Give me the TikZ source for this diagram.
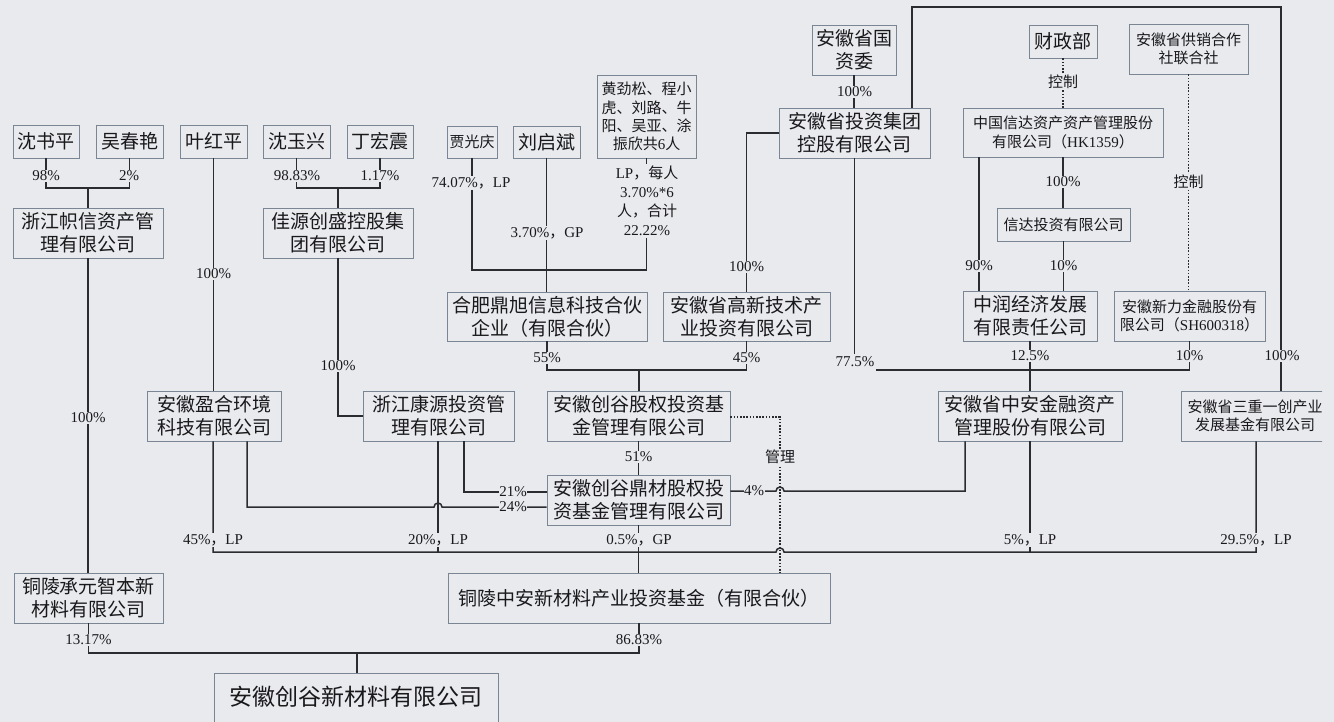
\documentclass[tikz,border=0pt]{standalone}
\usepackage{fontspec}
\setmainfont{Liberation Serif}
\newfontfamily\cjk{Noto Sans CJK SC}
\newcommand\zh[1]{{\cjk #1}}
\definecolor{bg}{RGB}{233,234,237}
\definecolor{bd}{RGB}{122,134,148}
\definecolor{lc}{RGB}{42,44,48}
\definecolor{tx}{RGB}{25,25,28}
\begin{document}
\begin{tikzpicture}[x=1pt,y=-1pt,
  box/.style={draw=bd, line width=0.9pt, inner sep=0pt, align=center, text=tx},
  big/.style={box, font=\cjk\fontsize{19}{23}\selectfont},
  small/.style={box, font=\cjk\fontsize{15}{18.3}\selectfont},
  ln/.style={draw=lc, line width=1.5pt},
  dl/.style={draw=lc, line width=1.4pt, dash pattern=on 1.6pt off 1.6pt},
  lab/.style={fill=bg, inner sep=1.2pt, text=tx, font=\fontsize{15}{19}\selectfont, align=center},
  zlab/.style={lab, font=\cjk\fontsize{15}{19}\selectfont}]
\useasboundingbox (0,0) rectangle (1334,722);
\fill[bg] (0,0) rectangle (1334,722);
\clip (0,0) rectangle (1334,722);

% ---------- boxes ----------
\node[big, minimum width=66, minimum height=33] (shu) at (46,141.5) {沈书平};
\node[big, minimum width=67, minimum height=33] (wu) at (129.5,141.5) {吴春艳};
\node[big, minimum width=67, minimum height=33] (ye) at (213.5,141.5) {叶红平};
\node[big, minimum width=67, minimum height=33] (shenyx) at (296.5,141.5) {沈玉兴};
\node[big, minimum width=66, minimum height=33] (ding) at (380,141.5) {丁宏震};
\node[big, minimum width=150, minimum height=50] (zhixin) at (88,233) {浙江帜信资产管\\理有限公司};
\node[big, minimum width=150, minimum height=50] (jiayuan) at (338,233) {佳源创盛控股集\\团有限公司};
\node[small, minimum width=50, minimum height=32] (jia) at (472,142) {贾光庆};
\node[big, minimum width=67, minimum height=32] (liu) at (546.5,142) {刘启斌};
\node[small, minimum width=99, minimum height=83] (huang) at (646.5,116.5) {黄劲松、程小\\虎、刘路、牛\\阳、吴亚、涂\\振欣共{\rmfamily 6}人};
\node[big, minimum width=84, minimum height=50] (gzw) at (854,50) {安徽省国\\资委};
\node[big, minimum width=151, minimum height=50] (tzjt) at (854.5,133) {安徽省投资集团\\控股有限公司};
\node[big, minimum width=68, minimum height=33] (czb) at (1063,41.5) {财政部};
\node[small, minimum width=119, minimum height=50] (gx) at (1188.5,49) {安徽省供销合作\\社联合社};
\node[small, minimum width=200, minimum height=49] (xinda) at (1063,132.5) {中国信达资产资产管理股份\\有限公司（{\rmfamily HK1359}）};
\node[small, minimum width=133, minimum height=33] (xdtz) at (1063.5,224.5) {信达投资有限公司};
\node[big, minimum width=200, minimum height=49] (hefei) at (547,316.5) {合肥鼎旭信息科技合伙\\企业（有限合伙）};
\node[big, minimum width=167, minimum height=49] (gaoxin) at (746.5,316.5) {安徽省高新技术产\\业投资有限公司};
\node[big, minimum width=134, minimum height=50] (zhongrun) at (1030,316) {中润经济发展\\有限责任公司};
\node[small, minimum width=151, minimum height=50] (xinli) at (1189.5,316) {安徽新力金融股份有\\限公司（{\rmfamily SH600318}）};
\node[big, minimum width=134, minimum height=50] (yinghe) at (214,416) {安徽盈合环境\\科技有限公司};
\node[big, minimum width=151, minimum height=50] (kangyuan) at (438.5,416) {浙江康源投资管\\理有限公司};
\node[big, minimum width=183, minimum height=50] (gq) at (638.5,416) {安徽创谷股权投资基\\金管理有限公司};
\node[big, minimum width=184, minimum height=50] (zhongan) at (1030,416) {安徽省中安金融资产\\管理股份有限公司};
\begin{scope}
\clip (1170,380) rectangle (1322,450);
\node[box, minimum width=164, minimum height=50] (sanzhong) at (1263,416) {};
\node[small, draw=none] (sanzhongtext) at (1255,416) {安徽省三重一创产业\\发展基金有限公司};
\end{scope}
\node[big, minimum width=183, minimum height=50] (dingcai) at (638.5,500) {安徽创谷鼎材股权投\\资基金管理有限公司};
\node[big, minimum width=149, minimum height=50] (chengyuan) at (88.5,598) {铜陵承元智本新\\材料有限公司};
\node[big, minimum width=382, minimum height=50] (tlza) at (639,598) {铜陵中安新材料产业投资基金（有限合伙）};
\node[box, minimum width=284, minimum height=80, anchor=north] (final) at (356,673) {};
\node[text=tx, font=\cjk\fontsize{23}{27}\selectfont] (finaltext) at (356,697) {安徽创谷新材料有限公司};

% ---------- helper coordinates ----------
\coordinate (j1) at (88,188);
\coordinate (j2) at (338,188);
\coordinate (j3) at (547,270);
\coordinate (j4) at (639,370);
\coordinate (j5) at (357,653);
\coordinate (t1) at (912,7);
\coordinate (t2) at (1281,7);
\coordinate (h0) at (876,370);
\coordinate (h1) at (1189.5,370);
\coordinate (v77) at (854.5,354);
\coordinate (x979) at (979,0);
\coordinate (m1) at (780,417);
\coordinate (k2) at (464,492);
\coordinate (y2) at (247,507);
\coordinate (hp1) at (434,507);
\coordinate (f1) at (965,491);
\coordinate (hp2) at (776,491);
\coordinate (lp1) at (213,552);
\coordinate (lp2) at (1256,552);
\coordinate (hp3) at (776,552);
\coordinate (k3) at (438,552);

% ---------- connectors ----------
\draw[ln] (shu.south) |- (j1) -| (wu.south);
\draw[ln] (j1) -- (zhixin.north);
\draw[ln] (shenyx.south) |- (j2) -| (ding.south);
\draw[ln] (j2) -- (jiayuan.north);
\draw[ln] (ye.south) -- (ye.south |- yinghe.north);
\draw[ln] (jiayuan.south) |- (kangyuan.west);
\draw[ln] (zhixin.south) -- (zhixin.south |- chengyuan.north);
\draw[ln] (jia.south) |- (j3) -| (huang.south);
\draw[ln] (liu.south) -- (liu.south |- hefei.north);
\draw[ln] (gzw.south) -- (gzw.south |- tzjt.north);
\draw[ln] (tzjt.west) -| (gaoxin.north);
\draw[ln] (tzjt.north -| t1) -- (t1) -- (t2) -- (sanzhong.north -| t2);
\draw[ln] (tzjt.south) -- (v77);
\draw[ln] (h0) -- (h1);
\draw[ln] (zhongrun.south) -- (zhongan.north);
\draw[ln] (xinli.south) -- (h1);
\draw[dl] (czb.south) -- (xinda.north);
\draw[dl] (gx.south) -- (gx.south |- xinli.north);
\draw[ln] (xinda.south) -- (xinda.south |- xdtz.north);
\draw[ln] (xdtz.south) -- (xdtz.south |- zhongrun.north);
\draw[ln] (xinda.south -| x979) -- (zhongrun.north -| x979);
\draw[ln] (hefei.south) |- (j4) -| (gaoxin.south);
\draw[ln] (j4) -- (j4 |- gq.north);
\draw[ln] (gq.south) -- (dingcai.north);
\draw[dl] (gq.east |- m1) -- (m1) -- (m1 |- tlza.north);
\draw[ln] (kangyuan.south -| k2) |- (dingcai.west |- k2);
\draw[ln] (yinghe.south -| y2) -- (y2) -- (hp1) arc[start angle=180, end angle=0, radius=4pt] -- (dingcai.west |- y2);
\draw[ln] (dingcai.east |- f1) -- (hp2) arc[start angle=180, end angle=0, radius=4pt] -- (f1) -- (zhongan.south -| f1);
\draw[ln] (yinghe.south -| lp1) -- (lp1) -- (hp3) arc[start angle=180, end angle=0, radius=4pt] -- (lp2) -- (sanzhong.south -| lp2);
\draw[ln] (kangyuan.south -| k3) -- (k3);
\draw[ln] (dingcai.south) -- (dingcai.south |- tlza.north);
\draw[ln] (zhongan.south) -- (zhongan.south |- lp1);
\draw[ln] (chengyuan.south) |- (j5) -| (tlza.south);
\draw[ln] (j5) -- (final.north -| j5);

% ---------- labels ----------
\node[lab] (l1) at (46,176) {98\%};
\node[lab] (l2) at (129,176) {2\%};
\node[lab] (l3) at (297,176) {98.83\%};
\node[lab] (l4) at (380,176) {1.17\%};
\node[lab] (l5) at (213.5,274) {100\%};
\node[lab] (l6) at (338,366) {100\%};
\node[lab] (l7) at (88,418) {100\%};
\node[lab] (l8) at (471,183) {74.07\%\zh{，}LP};
\node[lab] (l9) at (547,233) {3.70\%\zh{，}GP};
\node[lab, inner sep=2pt] (l10) at (647,201) {LP\zh{，每人}\\3.70\%*6\\\zh{人，合计}\\22.22\%};
\node[lab] (l11) at (854.5,92) {100\%};
\node[lab] (l12) at (746.5,267) {100\%};
\node[lab] (l13) at (1282,356) {100\%};
\node[lab, fill=none] (l14) at (855,362) {77.5\%};
\node[lab] (l15) at (1030,356) {12.5\%};
\node[lab] (l16) at (1189.5,356) {10\%};
\node[zlab] (l17) at (1063,82) {控制};
\node[zlab] (l18) at (1188.5,182) {控制};
\node[lab] (l19) at (1063,182) {100\%};
\node[lab] (l20) at (1063.5,266) {10\%};
\node[lab] (l21) at (979,266) {90\%};
\node[lab] (l22) at (547,358) {55\%};
\node[lab] (l23) at (746.5,358) {45\%};
\node[lab] (l24) at (638.5,457) {51\%};
\node[zlab] (l25) at (780,457) {管理};
\node[lab, inner sep=0.5pt] (l26) at (513,492) {21\%};
\node[lab, inner sep=0.5pt] (l27) at (513,507) {24\%};
\node[lab, inner sep=0.5pt] (l28) at (754,491) {4\%};
\node[lab] (l29) at (213,540) {45\%\zh{，}LP};
\node[lab] (l30) at (438,540) {20\%\zh{，}LP};
\node[lab] (l31) at (639,540) {0.5\%\zh{，}GP};
\node[lab] (l32) at (1030,540) {5\%\zh{，}LP};
\node[lab] (l33) at (1256,540) {29.5\%\zh{，}LP};
\node[lab] (l34) at (88.5,640) {13.17\%};
\node[lab] (l35) at (639,640) {86.83\%};
\end{tikzpicture}
\end{document}
